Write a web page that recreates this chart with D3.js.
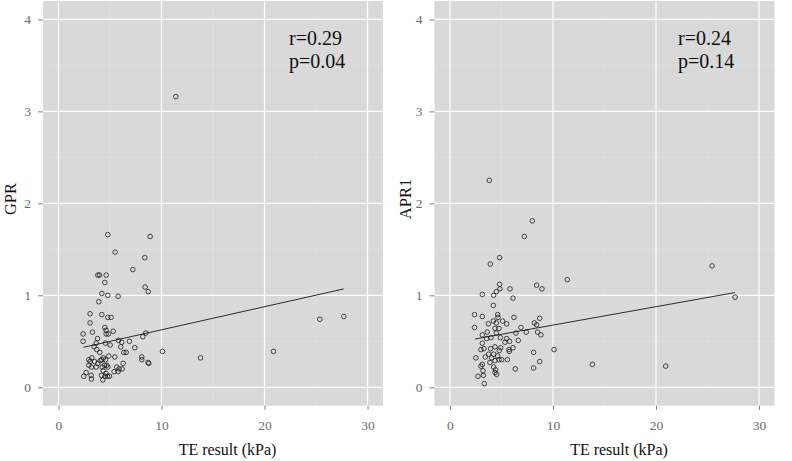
<!DOCTYPE html>
<html>
<head>
<meta charset="utf-8">
<script src="https://cdn.jsdelivr.net/npm/d3@7"></script>
<style>
  body { margin: 0; background: #fff; }
  svg { display: block; }
</style>
</head>
<body>
<div class="canvas"></div>
<script>
// TE result (kPa) vs GPR
const teGpr = [11.39, 4.79, 8.90, 5.50, 8.38, 7.22, 3.82, 3.98, 4.63, 4.50, 8.41, 8.71, 4.21, 4.79, 5.79,
  3.92, 3.07, 4.21, 4.79, 5.11, 3.07, 4.50, 2.39, 3.30, 5.31, 4.63, 4.63, 4.85, 8.48, 8.19,
  3.79, 2.39, 5.83, 6.15, 6.89, 3.66, 4.56, 5.02, 6.05, 7.41, 3.46, 3.72, 4.01, 6.34, 6.57,
  10.10, 20.87, 13.79, 5.47, 4.89, 8.09, 8.09, 8.77, 8.70, 6.28, 2.95, 3.07, 3.24, 3.50, 3.82,
  4.05, 4.21, 4.37, 4.56, 4.69, 4.47, 2.95, 3.20, 4.24, 4.79, 5.66, 2.69, 2.46, 3.17, 3.20,
  4.18, 4.30, 4.50, 4.76, 4.95, 5.40, 5.79, 5.89, 6.18, 4.63, 4.34, 3.66, 25.37, 27.70];
const gpr = [3.16, 1.66, 1.64, 1.47, 1.41, 1.28, 1.22, 1.22, 1.22, 1.14, 1.09, 1.04, 1.02, 1.00, 0.99,
  0.93, 0.80, 0.79, 0.76, 0.76, 0.70, 0.65, 0.58, 0.60, 0.61, 0.62, 0.58, 0.58, 0.59, 0.55,
  0.53, 0.50, 0.51, 0.49, 0.50, 0.48, 0.48, 0.46, 0.44, 0.43, 0.44, 0.41, 0.38, 0.38, 0.38,
  0.39, 0.39, 0.32, 0.33, 0.34, 0.33, 0.30, 0.26, 0.27, 0.26, 0.30, 0.28, 0.32, 0.28, 0.26,
  0.29, 0.30, 0.32, 0.30, 0.24, 0.24, 0.24, 0.22, 0.22, 0.22, 0.22, 0.16, 0.12, 0.13, 0.09,
  0.13, 0.08, 0.12, 0.12, 0.12, 0.17, 0.17, 0.20, 0.20, 0.15, 0.18, 0.22, 0.74, 0.77];
const gprFit = [[2.43, 0.435], [27.67, 1.069]];

// TE result (kPa) vs APRI
const teApri = [3.82, 7.99, 7.22, 4.82, 3.92, 25.44, 11.39, 4.82, 8.41, 5.83, 4.85, 8.93, 4.50, 3.14, 4.24,
  6.12, 27.67, 4.21, 2.39, 4.63, 3.14, 4.66, 6.21, 8.71, 4.21, 5.11, 4.50, 3.72, 5.50, 8.19,
  8.41, 2.39, 6.89, 4.37, 4.76, 4.50, 3.62, 6.41, 7.41, 8.51, 8.83, 3.14, 3.98, 4.89, 5.50,
  3.56, 5.79, 6.63, 3.14, 5.34, 4.37, 3.30, 3.95, 4.92, 6.12, 5.73, 3.01, 4.79, 5.76, 10.10,
  8.12, 3.75, 4.24, 3.43, 4.63, 4.05, 2.52, 5.02, 4.76, 5.57, 4.37, 8.71, 3.88, 3.14, 3.01,
  13.82, 4.24, 6.34, 8.12, 20.94, 4.43, 3.20, 2.72, 3.24, 4.37, 4.53, 3.33];
const apri = [2.25, 1.81, 1.64, 1.41, 1.34, 1.32, 1.17, 1.12, 1.11, 1.07, 1.07, 1.07, 1.04, 1.01, 1.00,
  0.97, 0.98, 0.89, 0.79, 0.79, 0.77, 0.76, 0.76, 0.75, 0.72, 0.72, 0.70, 0.69, 0.69, 0.70,
  0.68, 0.65, 0.65, 0.64, 0.64, 0.59, 0.60, 0.59, 0.60, 0.60, 0.57, 0.57, 0.54, 0.54, 0.53,
  0.53, 0.50, 0.51, 0.48, 0.49, 0.44, 0.42, 0.42, 0.43, 0.43, 0.41, 0.41, 0.40, 0.39, 0.41,
  0.38, 0.36, 0.36, 0.33, 0.34, 0.32, 0.32, 0.30, 0.30, 0.30, 0.29, 0.28, 0.27, 0.25, 0.23,
  0.25, 0.22, 0.20, 0.21, 0.23, 0.19, 0.18, 0.12, 0.13, 0.16, 0.14, 0.04];
const apriFit = [[2.43, 0.525], [27.67, 1.03]];

const xTicks = [0, 10, 20, 30];
const xMinor = [5, 15, 25];
const yTicks = [0, 1, 2, 3, 4];
const yMinor = [0.5, 1.5, 2.5, 3.5];

const panels = [
  { left: 43, yLabel: 'GPR', xs: teGpr, ys: gpr, fit: gprFit, r: 'r=0.29', p: 'p=0.04', noteX: 289, titleX: 16 },
  { left: 434.5, yLabel: 'APR1', xs: teApri, ys: apri, fit: apriFit, r: 'r=0.24', p: 'p=0.14', noteX: 678, titleX: 411 }
];

const dims = { width: 792, height: 461, panelW: 340, top: 1, bottom: 405.7 };
const serif = 'Liberation Serif';

const svg = d3.select('.canvas')
  .append('svg')
  .attr('width', dims.width)
  .attr('height', dims.height);

panels.forEach(pn => {
  const x = d3.scaleLinear().domain([-1.5, 31.5]).range([pn.left, pn.left + dims.panelW]);
  const y = d3.scaleLinear().domain([-0.2, 4.2]).range([dims.bottom, dims.top]);
  const g = svg.append('g');

  g.append('rect')
    .attr('x', x.range()[0]).attr('y', dims.top)
    .attr('width', dims.panelW).attr('height', dims.bottom - dims.top)
    .attr('fill', '#d9d9d9');

  // minor grid
  g.selectAll('.vminor').data(xMinor).enter().append('line')
    .attr('x1', d => x(d)).attr('x2', d => x(d))
    .attr('y1', dims.top).attr('y2', dims.bottom)
    .attr('stroke', '#e4e4e4').attr('stroke-width', 0.6);
  g.selectAll('.hminor').data(yMinor).enter().append('line')
    .attr('y1', d => y(d)).attr('y2', d => y(d))
    .attr('x1', x.range()[0]).attr('x2', x.range()[1])
    .attr('stroke', '#e4e4e4').attr('stroke-width', 0.6);

  // major grid
  g.selectAll('.vmajor').data(xTicks).enter().append('line')
    .attr('x1', d => x(d)).attr('x2', d => x(d))
    .attr('y1', dims.top).attr('y2', dims.bottom)
    .attr('stroke', '#fff').attr('stroke-width', 1.2);
  g.selectAll('.hmajor').data(yTicks).enter().append('line')
    .attr('y1', d => y(d)).attr('y2', d => y(d))
    .attr('x1', x.range()[0]).attr('x2', x.range()[1])
    .attr('stroke', '#fff').attr('stroke-width', 1.2);

  // axes
  const xAxis = g.append('g')
    .attr('transform', `translate(0,${dims.bottom})`)
    .call(d3.axisBottom(x).tickValues(xTicks).tickFormat(d3.format('d')).tickSize(4).tickPadding(11));
  const yAxis = g.append('g')
    .attr('transform', `translate(${x.range()[0]},0)`)
    .call(d3.axisLeft(y).tickValues(yTicks).tickFormat(d3.format('d')).tickSize(5).tickPadding(7));
  [xAxis, yAxis].forEach(a => {
    a.attr('font-family', serif).attr('font-size', 13.5);
    a.select('.domain').remove();
    a.selectAll('line').attr('stroke', '#7f7f7f');
    a.selectAll('text').attr('fill', '#6b6b6b').attr('font-family', serif);
  });

  // fit line
  g.append('path')
    .datum(pn.fit)
    .attr('d', d3.line().x(d => x(d[0])).y(d => y(d[1])))
    .attr('fill', 'none')
    .attr('stroke', '#2b2b2b')
    .attr('stroke-width', 1);

  // points
  g.selectAll('.pt').data(pn.xs.map((v, i) => [v, pn.ys[i]])).enter().append('circle')
    .attr('cx', d => x(d[0])).attr('cy', d => y(d[1]))
    .attr('r', 2.3)
    .attr('fill', 'none')
    .attr('stroke', '#111')
    .attr('stroke-width', 0.75);

  // annotation
  g.append('text').attr('x', pn.noteX).attr('y', 45).text(pn.r)
    .attr('font-family', serif).attr('font-size', 20).attr('fill', '#111');
  g.append('text').attr('x', pn.noteX).attr('y', 68).text(pn.p)
    .attr('font-family', serif).attr('font-size', 20).attr('fill', '#111');

  // axis titles
  g.append('text')
    .attr('x', (x.range()[0] + x.range()[1]) / 2 + 14.5)
    .attr('y', 455)
    .attr('text-anchor', 'middle')
    .attr('font-family', serif)
    .attr('font-size', 16)
    .attr('fill', '#111')
    .text('TE result (kPa)');
  g.append('text')
    .attr('transform', `translate(${pn.titleX},199) rotate(-90)`)
    .attr('text-anchor', 'middle')
    .attr('font-family', serif)
    .attr('font-size', 16.5)
    .attr('fill', '#111')
    .text(pn.yLabel);
});
</script>
</body>
</html>
